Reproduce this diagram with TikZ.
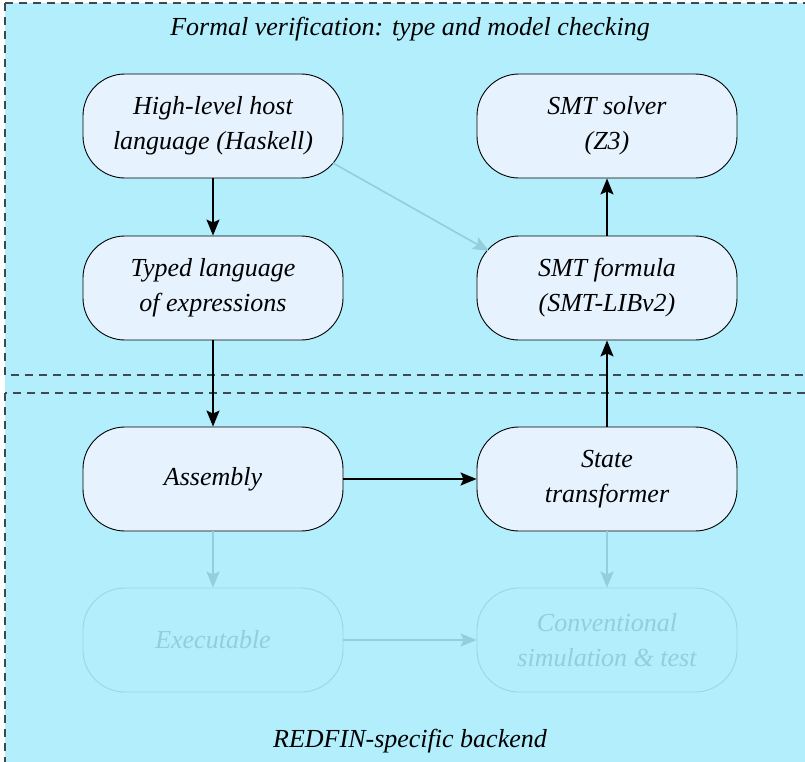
\documentclass[tikz,border=0pt]{standalone}
\usepackage{fontspec}
\setmainfont{Liberation Serif}
\usetikzlibrary{arrows.meta,calc}
\definecolor{bgcyan}{HTML}{B2EEFC}
\definecolor{nodefill}{HTML}{E6F2FE}
\definecolor{faded}{HTML}{95CDDA}
\definecolor{fadedline}{HTML}{9FD5E2}
\definecolor{dashcol}{HTML}{3E4A50}
\begin{document}
\begin{tikzpicture}[x=1pt,y=-1pt,
  stage/.style={draw=black, line width=0.9pt, fill=nodefill, rounded corners=42pt,
    minimum width=260pt, minimum height=104pt, align=center, inner sep=2pt,
    font=\fontsize{26}{35}\selectfont\itshape},
  ghost/.style={stage, draw=fadedline, fill=bgcyan, text=faded},
  flow/.style={line width=1.6pt, -{Stealth[length=16pt,width=13pt,inset=3pt]}},
  fadeflow/.style={flow, color=faded},
  region/.style={draw=dashcol, line width=1.2pt, dash pattern=on 8pt off 6pt},
  regiontitle/.style={font=\fontsize{26}{30}\selectfont\itshape, inner sep=0pt}
]
\useasboundingbox (0,0) rectangle (805,761);
\fill[bgcyan] (5,3) rectangle (820,775);
\draw[region] (5,3) rectangle (820,375);
\draw[region] (5,393) rectangle (820,790);

\node[regiontitle] (toptitle) at (410,29) {Formal verification: type and model checking};
\node[regiontitle] (bottitle) at (410,741) {REDFIN-specific backend};

\node[stage] (high) at (213,126) {High-level host\\language (Haskell)};
\node[stage] (solver) at (607,126) {SMT solver\\(Z3)};
\node[stage] (typed) at (213,288) {Typed language\\of expressions};
\node[stage] (formula) at (607,288) {SMT formula\\(SMT-LIBv2)};
\node[stage] (asm) at (213,479) {Assembly};
\node[stage] (state) at (607,479) {State\\transformer};
\node[ghost] (exe) at (213,640) {Executable};
\node[ghost] (conv) at (607,640) {Conventional\\simulation \& test};

\draw[flow] (high) -- (typed);
\draw[flow] (typed) -- (asm);
\draw[flow] (asm) -- (state);
\draw[flow] (state) -- (formula);
\draw[flow] (formula) -- (solver);
\draw[fadeflow] ($(high.center)+(120,37)$) -- ($(formula.center)+(-118,-37)$);
\draw[fadeflow] (asm) -- (exe);
\draw[fadeflow] (state) -- (conv);
\draw[fadeflow] (exe) -- (conv);
\end{tikzpicture}
\end{document}
